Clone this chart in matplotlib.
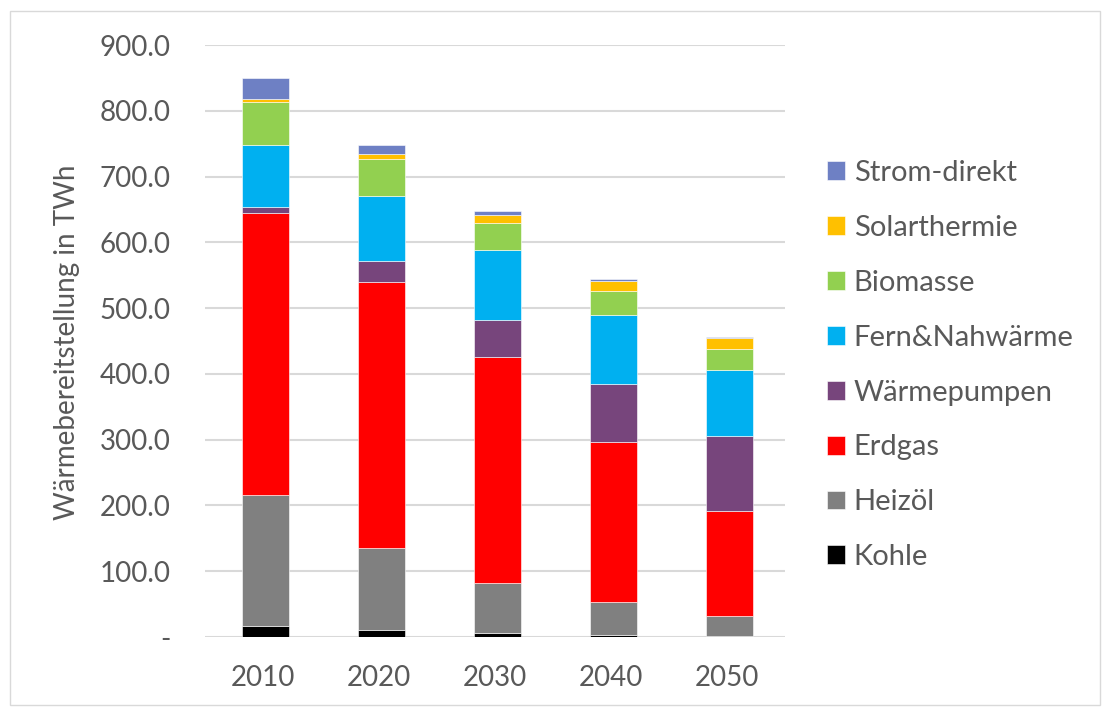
import matplotlib.pyplot as plt
import numpy as np
from matplotlib.patches import Rectangle

plt.rcParams['font.family'] = ['Lato', 'DejaVu Sans']

years = ['2010', '2020', '2030', '2040', '2050']

kohle = [17, 10, 6, 2.5, 1]
heizoel = [199, 125, 76, 50, 31]
erdgas = [428, 404, 344, 244, 159]
waermepumpen = [10, 33, 56, 88, 114]
fernwaerme = [94, 99, 106, 105, 101]
biomasse = [66, 56, 42, 36, 32]
solar = [4, 8, 12, 16, 16]
strom = [32, 13, 5, 2.5, 2.5]

series = [
    ('Kohle', kohle, '#000000'),
    ('Heizöl', heizoel, '#808080'),
    ('Erdgas', erdgas, '#FF0000'),
    ('Wärmepumpen', waermepumpen, '#77457C'),
    ('Fern&Nahwärme', fernwaerme, '#00B0F0'),
    ('Biomasse', biomasse, '#92D050'),
    ('Solarthermie', solar, '#FFC000'),
    ('Strom-direkt', strom, '#6E80C4'),
]

text_col = '#595959'

fig = plt.figure(figsize=(11.04, 7.09), dpi=100)
ax = fig.add_axes([205 / 1104, 1 - 637 / 709, 580 / 1104, 592 / 709])

x = np.arange(len(years))
bottom = np.zeros(len(years))
for name, vals, col in series:
    ax.bar(x + 0.02, vals, 0.4, bottom=bottom, color=col, label=name,
           edgecolor='white', linewidth=0.4, zorder=3)
    bottom += np.array(vals)

ax.set_xlim(-0.5, len(years) - 0.5)
ax.set_ylim(0, 900)
ticks = np.arange(0, 901, 100)
ax.set_yticks(ticks)
ax.set_yticklabels(['-'] + [f'{t:.1f}' for t in ticks[1:]])
ax.set_xticks(x)
ax.set_xticklabels(years)
ax.tick_params(length=0, labelsize=20, colors=text_col)
ax.tick_params(axis='x', pad=20)
ax.tick_params(axis='y', pad=25)
ax.grid(axis='y', color='#D9D9D9', linewidth=1.5, zorder=0)
for s in ax.spines.values():
    s.set_visible(False)
ax.set_ylabel('Wärmebereitstellung in TWh', fontsize=20, color=text_col)
ax.yaxis.set_label_coords(-0.215, 0.498)

handles, labels = ax.get_legend_handles_labels()
leg = fig.legend(handles[::-1], labels[::-1], loc='upper left',
                 bbox_to_anchor=(827 / 1104, 1 - 160 / 709), frameon=False,
                 fontsize=21, labelspacing=0.99, handlelength=0.62,
                 handleheight=0.62, handletextpad=0.3, borderpad=0,
                 borderaxespad=0, labelcolor=text_col)

fig.patches.append(Rectangle((10 / 1104, 4 / 709), 1090 / 1104, 694 / 709,
                             transform=fig.transFigure, fill=False,
                             edgecolor='#D9D9D9', linewidth=1))

fig.savefig('out.png', dpi=100)
